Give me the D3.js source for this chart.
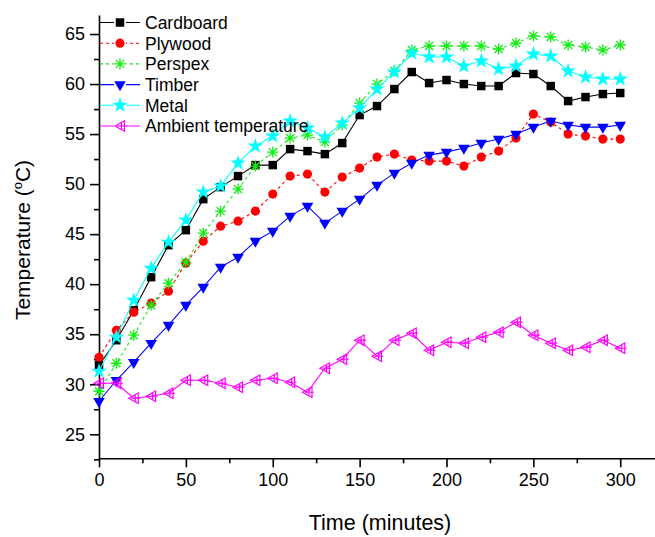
<!DOCTYPE html>
<html>
<head>
<meta charset="utf-8">
<script src="https://cdn.jsdelivr.net/npm/d3@7"></script>
<style>
  html, body { margin: 0; padding: 0; background: #fff; }
  svg { display: block; font-family: "Liberation Sans", Arial, sans-serif; }
</style>
</head>
<body>
<script>
// data
const time = [0, 10, 20, 30, 40, 50, 60, 70, 80, 90, 100, 110, 120, 130, 140, 150,
  160, 170, 180, 190, 200, 210, 220, 230, 240, 250, 260, 270, 280, 290, 300];
const cardboard = [31.9, 34.4, 37.4, 40.7, 43.9, 45.4, 48.5, 49.7, 50.8, 51.9, 51.9, 53.5, 53.3, 53.0, 54.1, 56.9,
  57.8, 59.5, 61.2, 60.1, 60.4, 60.0, 59.8, 59.8, 61.1, 61.0, 59.8, 58.3, 58.7, 59.0, 59.1];
const plywood = [32.7, 35.4, 37.2, 38.1, 39.3, 42.1, 44.3, 45.8, 46.3, 47.3, 49.0, 50.8, 51.0, 49.2, 50.7, 51.6,
  52.7, 53.0, 52.4, 52.3, 52.3, 51.8, 52.7, 53.3, 54.6, 57.0, 56.2, 55.0, 54.8, 54.5, 54.5];
const perspex = [29.3, 32.1, 34.9, 37.9, 40.1, 42.2, 45.1, 47.3, 49.5, 51.8, 53.2, 54.6, 54.9, 54.2, 55.9, 58.1,
  60.0, 61.3, 63.4, 63.8, 63.8, 63.8, 63.8, 63.5, 64.1, 64.8, 64.7, 63.9, 63.7, 63.4, 63.9];
const timber = [28.3, 30.4, 32.2, 34.1, 35.9, 37.9, 39.7, 41.7, 42.7, 44.3, 45.3, 46.8, 47.8, 46.1, 47.3, 48.5,
  49.9, 51.1, 52.1, 52.9, 53.2, 53.6, 54.1, 54.5, 55.0, 55.7, 56.3, 55.9, 55.7, 55.7, 55.9];
const metal = [31.3, 34.7, 38.4, 41.6, 44.2, 46.4, 49.2, 49.8, 52.1, 53.8, 54.8, 56.3, 55.6, 54.7, 56.1, 57.6,
  59.5, 61.2, 63.1, 62.7, 62.7, 61.8, 62.3, 61.5, 61.8, 63.0, 62.8, 61.3, 60.7, 60.5, 60.5];
const ambient = [30.1, 30.1, 28.6, 28.8, 29.1, 30.4, 30.4, 30.1, 29.7, 30.4, 30.6, 30.2, 29.2, 31.6, 32.5, 34.4,
  32.8, 34.4, 35.1, 33.4, 34.2, 34.1, 34.7, 35.2, 36.2, 34.9, 34.1, 33.4, 33.7, 34.4, 33.6];

const seriesNames = ["Cardboard", "Plywood", "Perspex", "Timber", "Metal", "Ambient temperature"];
const seriesValues = [cardboard, plywood, perspex, timber, metal, ambient];
const xTicks = [0, 50, 100, 150, 200, 250, 300];
const yTicks = [25, 30, 35, 40, 45, 50, 55, 60, 65];

// styles per series
const styles = [
  { color: "#000000", dash: null, marker: "square" },
  { color: "#ff0000", dash: "3,3", marker: "circle" },
  { color: "#11ee11", dash: "3,3", marker: "asterisk" },
  { color: "#0000ff", dash: null, marker: "triDown" },
  { color: "#00ffff", dash: null, marker: "star" },
  { color: "#ff00ff", dash: null, marker: "triLeft" }
];

const W = 655, H = 537;
const svg = d3.select("body").append("svg")
    .attr("width", W)
    .attr("height", H);

const x = d3.scaleLinear().domain([0, 320]).range([99, 655]);
const y = d3.scaleLinear().domain([22.6, 66.9]).range([458.3, 15]);

// axes
const xAxis = svg.append("g")
    .attr("transform", `translate(0,${y.range()[0]})`)
    .call(d3.axisBottom(x).tickValues(xTicks).tickSize(9).tickSizeOuter(0).tickPadding(6));
xAxis.selectAll("text").attr("font-size", 18).attr("fill", "#000").attr("font-family", "Liberation Sans, Arial, sans-serif");

const xMinor = svg.append("g")
    .attr("transform", `translate(0,${y.range()[0]})`)
    .call(d3.axisBottom(x).tickValues(d3.range(25, 300, 50)).tickSize(5).tickFormat(""));
xMinor.select(".domain").remove();

const yAxis = svg.append("g")
    .attr("transform", `translate(${x.range()[0]},0)`)
    .call(d3.axisLeft(y).tickValues(yTicks).tickSize(9).tickSizeOuter(0).tickPadding(5));
yAxis.selectAll("text").attr("font-size", 18).attr("fill", "#000").attr("font-family", "Liberation Sans, Arial, sans-serif");

const yMinor = svg.append("g")
    .attr("transform", `translate(${x.range()[0]},0)`)
    .call(d3.axisLeft(y).tickValues([22.5, 27.5, 32.5, 37.5, 42.5, 47.5, 52.5, 57.5, 62.5]).tickSize(5).tickFormat(""));
yMinor.select(".domain").remove();

svg.selectAll(".domain, .tick line").attr("stroke", "#000").attr("stroke-width", 1.6);

// axis titles
svg.append("text")
    .attr("x", 380)
    .attr("y", 530)
    .attr("text-anchor", "middle")
    .attr("font-size", 21.5)
    .text("Time (minutes)");

const yTitle = svg.append("text")
    .attr("transform", "translate(30,240) rotate(-90)")
    .attr("text-anchor", "middle")
    .attr("font-size", 21);
yTitle.append("tspan").text("Temperature (");
yTitle.append("tspan").attr("font-size", 13).attr("dy", -8).text("o");
yTitle.append("tspan").attr("dy", 8).text("C)");

// markers
function drawMarker(g, type, color) {
  if (type === "square") {
    g.append("path").attr("d", d3.symbol(d3.symbolSquare, 72)()).attr("fill", color);
  } else if (type === "circle") {
    g.append("path").attr("d", d3.symbol(d3.symbolCircle, 66)()).attr("fill", color);
  } else if (type === "asterisk") {
    g.append("path")
      .attr("d", "M-5.5,0L5.5,0M0,-5.5L0,5.5M-4,-4L4,4M-4,4L4,-4")
      .attr("stroke", color).attr("stroke-width", 1.3).attr("fill", "none");
  } else if (type === "triDown") {
    g.append("path").attr("d", d3.symbol(d3.symbolTriangle, 58)())
      .attr("transform", "rotate(180)").attr("fill", color);
  } else if (type === "star") {
    g.append("path").attr("d", d3.symbol(d3.symbolStar, 75)()).attr("fill", color);
  } else if (type === "triLeft") {
    g.append("path")
      .attr("d", "M-5,0L4.5,-5.2L4.5,5.2Z M-2.5,0L6.5,0 M1.5,-4L1.5,4")
      .attr("stroke", color).attr("stroke-width", 1.2).attr("fill", "none");
  }
}

const line = d3.line()
    .x(d => x(d[0]))
    .y(d => y(d[1]));

seriesValues.forEach((vals, i) => {
  const pts = time.map((t, j) => [t, vals[j]]);
  const st = styles[i];
  svg.append("path")
      .datum(pts)
      .attr("d", line)
      .attr("fill", "none")
      .attr("stroke", st.color)
      .attr("stroke-width", 1.1)
      .attr("stroke-dasharray", st.dash);

  svg.append("g").selectAll("g")
    .data(pts)
    .join("g")
      .attr("transform", d => `translate(${x(d[0])},${y(d[1])})`)
      .each(function() { drawMarker(d3.select(this), st.marker, st.color); });
});

// legend
const legend = svg.append("g");
seriesNames.forEach((name, i) => {
  const st = styles[i];
  const cy = 22.5 + i * 20.7;
  legend.append("line")
      .attr("x1", 100).attr("x2", 140)
      .attr("y1", cy).attr("y2", cy)
      .attr("stroke", st.color)
      .attr("stroke-width", 1.1)
      .attr("stroke-dasharray", st.dash);
  const m = legend.append("g").attr("transform", `translate(120,${cy})`);
  m.append("rect").attr("x", -6).attr("y", -6).attr("width", 12).attr("height", 12).attr("fill", "#fff");
  drawMarker(m, st.marker, st.color);
  legend.append("text")
      .attr("x", 145)
      .attr("y", cy + 6.3)
      .attr("font-size", 17.5)
      .text(name);
});
</script>
</body>
</html>
